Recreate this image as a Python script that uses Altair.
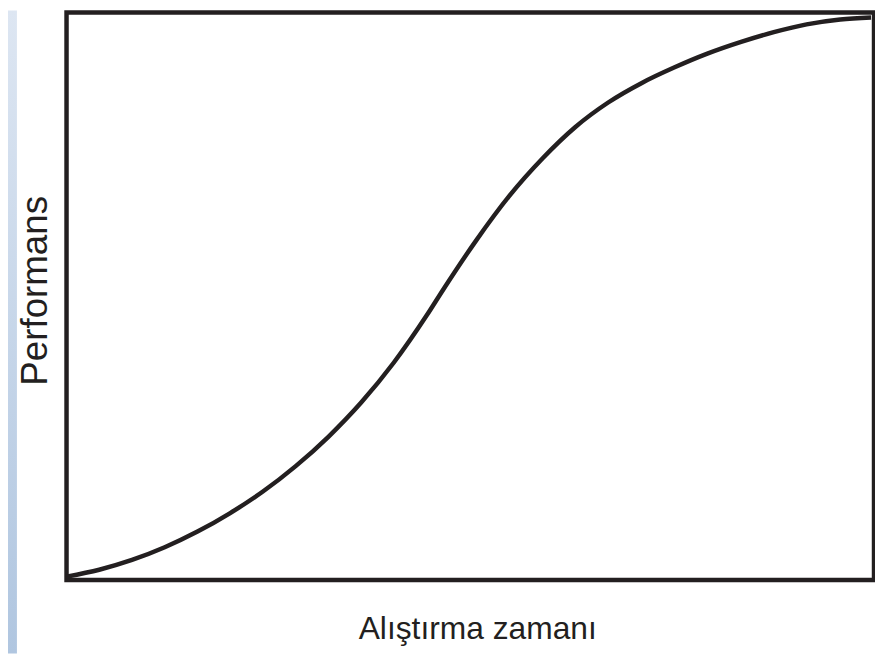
import altair as alt
import pandas as pd

# Curve (x: training time, y: performance, 0-100 units)
time_vals = [0, 4.05, 8.11, 12.16, 16.22, 20.27, 24.32, 28.38, 32.43, 36.49,
             40.54, 44.59, 46.68, 50.74, 54.79, 58.97, 63.02, 67.08, 71.25,
             75.31, 79.36, 83.54, 87.59, 91.65, 95.82, 99.63]
perf_vals = [0.60, 1.81, 3.53, 5.77, 8.53, 11.80, 15.59, 20.07, 25.24, 31.27,
             38.33, 46.60, 51.25, 59.86, 67.61, 74.33, 79.84, 84.15, 87.60,
             90.35, 92.76, 94.83, 96.55, 97.93, 98.79, 99.14]

x_title = "Alıştırma zamanı"
y_title = "Performans"

df = pd.DataFrame({"t": time_vals, "p": perf_vals})

W, H = 814, 572

x_enc = alt.X("t:Q", scale=alt.Scale(domain=[0, 100], nice=False, zero=False),
              axis=alt.Axis(title=x_title, labels=False, ticks=False, domain=False, grid=False,
                            titleFont="Liberation Sans", titleFontSize=32,
                            titleFontWeight="normal", titleColor="#231f20",
                            titleX=414, titleY=59, titleAlign="center",
                            titleBaseline="alphabetic"))
y_enc = alt.Y("p:Q", scale=alt.Scale(domain=[0, 100], nice=False, zero=False),
              axis=alt.Axis(title=y_title, labels=False, ticks=False, domain=False, grid=False,
                            titleFont="Liberation Sans", titleFontSize=37,
                            titleFontWeight="normal", titleColor="#231f20",
                            titleAngle=270, titleX=-20, titleY=280, titleAlign="center",
                            titleBaseline="alphabetic"))

curve = alt.Chart(df).mark_line(
    interpolate="monotone", color="#231f20", strokeWidth=4.5
).encode(x=x_enc, y=y_enc)

strip = alt.Chart(pd.DataFrame({"a": [0]})).mark_rect(
    fill=alt.Gradient(
        gradient="linear",
        stops=[alt.GradientStop(color="#dde6f2", offset=0),
               alt.GradientStop(color="#b0c6e0", offset=1)],
        x1=0, x2=0, y1=0, y2=1),
    stroke=None
).encode(x=alt.value(-59), x2=alt.value(-50), y=alt.value(-2), y2=alt.value(646))

chart = alt.layer(strip, curve).properties(
    width=W, height=H,
    autosize=alt.AutoSizeParams(type="none"),
    padding={"left": 59, "top": 2, "right": 1, "bottom": 74},
    background="white"
).configure_view(stroke="#231f20", strokeWidth=4.5, fill="white")

chart.save("out.html", embed_options={"renderer": "svg", "actions": False})
